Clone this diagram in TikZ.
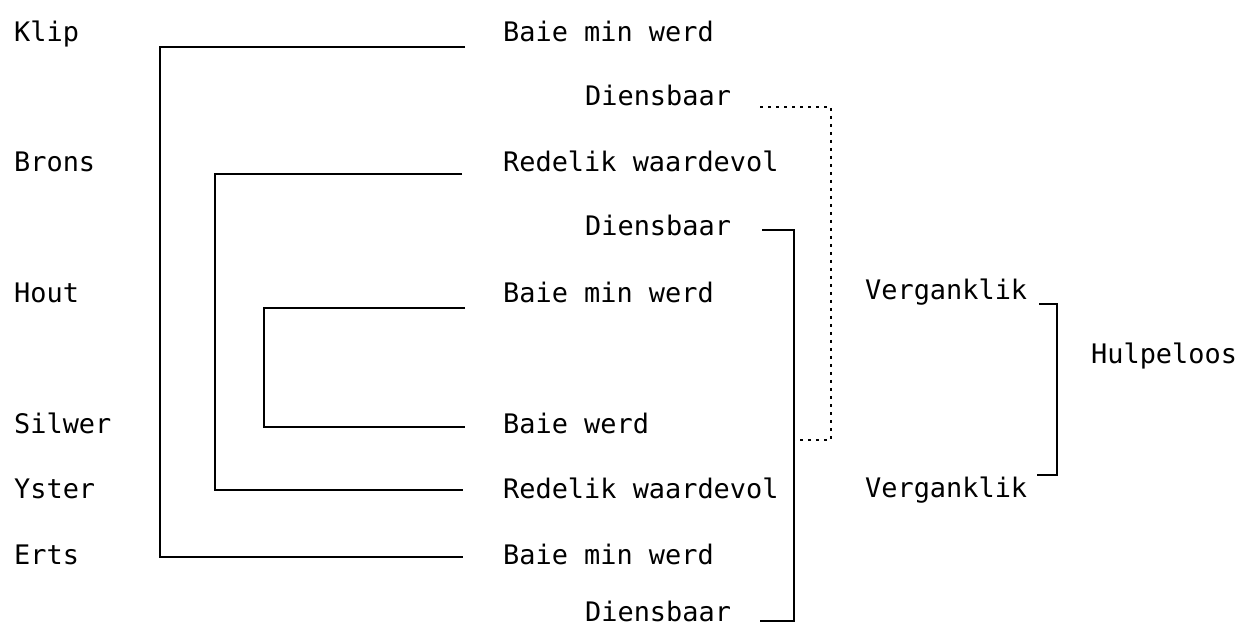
\documentclass[tikz,border=0pt]{standalone}
\usepackage{fontspec}
\newfontfamily\typewriter{DejaVu Sans Mono}
\begin{document}
\begin{tikzpicture}[x=1pt,y=-1pt,
  lbl/.style={anchor=base west,inner sep=0pt,font=\typewriter\fontsize{26.9}{30}\selectfont},
  tree/.style={line width=2.4pt,line join=miter},
  dotline/.style={line width=2.4pt,dash pattern=on 3pt off 5pt}]
\useasboundingbox (0,0) rectangle (1240,628);

% left column: materials
\node[lbl] (klip)   at (14,42)   {Klip};
\node[lbl] (brons)  at (14,172)  {Brons};
\node[lbl] (hout)   at (14,302.5){Hout};
\node[lbl] (silwer) at (14,433)  {Silwer};
\node[lbl] (yster)  at (14,498)  {Yster};
\node[lbl] (erts)   at (14,564)  {Erts};

% right column: valuations
\node[lbl] (v1) at (503,41.5) {Baie min werd};
\node[lbl] (d1) at (585,105.5){Diensbaar};
\node[lbl] (v2) at (503,172)  {Redelik waardevol};
\node[lbl] (d2) at (585,236)  {Diensbaar};
\node[lbl] (v3) at (503,302.5){Baie min werd};
\node[lbl] (v4) at (503,433)  {Baie werd};
\node[lbl] (v5) at (503,498)  {Redelik waardevol};
\node[lbl] (v6) at (503,564)  {Baie min werd};
\node[lbl] (d3) at (585,621.5){Diensbaar};

\node[lbl] (g1) at (865,300) {Verganklik};
\node[lbl] (g2) at (865,497) {Verganklik};
\node[lbl] (hp) at (1091,363){Hulpeloos};

% nested pairing brackets
\coordinate (a1) at (465,47);  \coordinate (a2) at (160,47);
\coordinate (a3) at (160,557); \coordinate (a4) at (463,557);
\draw[tree] (a1) -- (a2) -- (a3) -- (a4);

\coordinate (b1) at (462,174); \coordinate (b2) at (215,174);
\coordinate (b3) at (215,490); \coordinate (b4) at (463,490);
\draw[tree] (b1) -- (b2) -- (b3) -- (b4);

\coordinate (c1) at (465,308); \coordinate (c2) at (264,308);
\coordinate (c3) at (264,427); \coordinate (c4) at (465,427);
\draw[tree] (c1) -- (c2) -- (c3) -- (c4);

% Diensbaar brackets
\coordinate (e1) at (762,230); \coordinate (e2) at (794,230);
\coordinate (e3) at (794,621); \coordinate (e4) at (760,621);
\draw[tree] (e1) -- (e2) -- (e3) -- (e4);

\coordinate (f1) at (760,107); \coordinate (f2) at (831,107);
\coordinate (f3) at (831,440); \coordinate (f4) at (794,440);
\draw[dotline] (f1) -- (f2) -- (f3) -- (f4);

% Verganklik bracket
\coordinate (h1) at (1039,304); \coordinate (h2) at (1057,304);
\coordinate (h3) at (1057,475); \coordinate (h4) at (1037,475);
\draw[tree] (h1) -- (h2) -- (h3) -- (h4);
\end{tikzpicture}
\end{document}
